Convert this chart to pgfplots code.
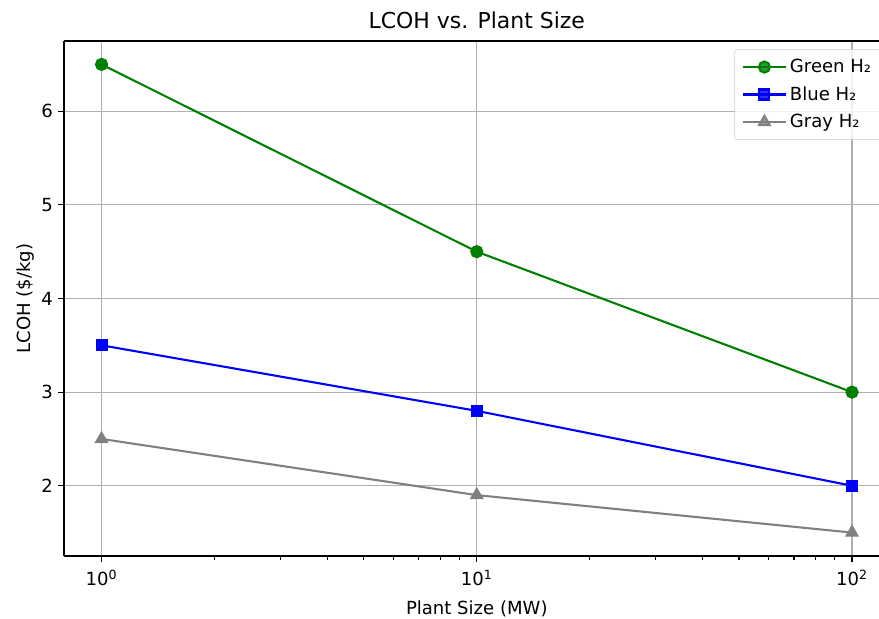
\documentclass[border=0pt]{standalone}
\usepackage{pgfplots}
\pgfplotsset{compat=1.18}
\usepackage{fontspec}
\setmainfont{DejaVu Sans}
\definecolor{mplgreen}{RGB}{0,128,0}
\definecolor{mplblue}{RGB}{0,0,255}
\definecolor{mplgray}{RGB}{128,128,128}
\definecolor{gridgray}{RGB}{176,176,176}
\begin{document}
\begin{tikzpicture}
\begin{axis}[
	at={(46.08pt,45.36pt)}, anchor=south west,
	scale only axis,
	width=594.4pt, height=370.8pt,
	xmode=log,
	xmin=0.7943, xmax=125.89,
	ymin=1.25, ymax=6.75,
	axis x line*=bottom, axis y line*=left,
	xtick={1,10,100},
	xticklabels={10\textsuperscript{0},10\textsuperscript{1},10\textsuperscript{2}},
	ytick={2,3,4,5,6},
	/pgf/number format/assume math mode=true,
	tick label style={font=\fontsize{13}{15}\selectfont},
	x tick label style={yshift=-2pt},
	xtick pos=bottom, ytick pos=left,
	tick align=outside,
	major tick length=4.5pt, minor tick length=2.6pt,
	every tick/.style={black, line width=0.9pt},
	axis line style={line width=0.9pt},
	grid=major,
	major grid style={color=gridgray, line width=0.8pt},
	title={LCOH vs. Plant Size},
	title style={font=\fontsize{15.8}{18}\selectfont, yshift=-1pt},
	xlabel={Plant Size (MW)},
	ylabel={LCOH (\$/kg)},
	label style={font=\fontsize{13}{15}\selectfont},
	xlabel style={yshift=-4pt},
	ylabel style={yshift=-2pt},
	legend style={at={(1,1)}, anchor=north east, xshift=-6pt, yshift=-6pt,
		draw=black!20, fill=white, fill opacity=0.8, text opacity=1,
		rounded corners=2pt, font=\fontsize{13}{15}\selectfont,
		row sep=4.5pt, inner xsep=5pt, inner ysep=5pt},
	legend cell align=left,
	legend image code/.code={\draw[mark repeat=2,mark phase=2] plot coordinates {(0cm,0cm) (0.55cm,0cm) (1.1cm,0cm)};},
]
\draw[black, line width=0.9pt] (rel axis cs:0,1) -- (rel axis cs:1,1);
\addplot[mplgreen, line width=1.5pt, mark=*, mark size=4pt, mark options={fill=mplgreen}] coordinates
{(1,6.5) (10,4.5) (100,3.0)};
\addlegendentry{Green H₂}
\addplot[mplblue, line width=1.5pt, mark=square*, mark size=3.6pt, mark options={fill=mplblue}] coordinates
{(1,3.5) (10,2.8) (100,2.0)};
\addlegendentry{Blue H₂}
\addplot[mplgray, line width=1.5pt, mark=triangle*, mark size=4.4pt, mark options={fill=mplgray}] coordinates
{(1,2.5) (10,1.9) (100,1.5)};
\addlegendentry{Gray H₂}
\end{axis}
\pgfresetboundingbox
\path[use as bounding box] (0,0) rectangle (632.88pt,445.68pt);
\end{tikzpicture}
\end{document}
